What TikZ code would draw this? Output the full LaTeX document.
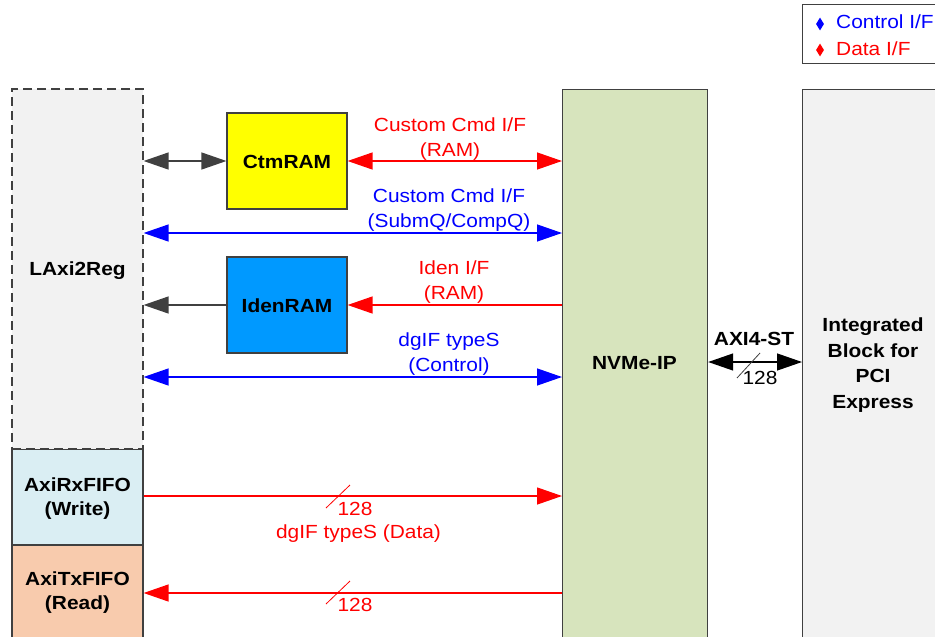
\documentclass[tikz,border=0pt]{standalone}
\usepackage{fontspec}
\setmainfont{Liberation Sans}[FakeStretch=1.1]
\usetikzlibrary{arrows.meta,shapes.geometric,calc}
\definecolor{lgray}{HTML}{F2F2F2}
\definecolor{rxblue}{HTML}{DAEEF3}
\definecolor{txpeach}{HTML}{F8CBAD}
\definecolor{ctmyel}{HTML}{FFFF00}
\definecolor{idenblue}{HTML}{0099FF}
\definecolor{nvgreen}{HTML}{D7E4BD}
\definecolor{bord}{HTML}{404040}
\definecolor{cblue}{HTML}{0000FF}
\definecolor{dred}{HTML}{FF0000}
\tikzset{
  box/.style={draw=bord, line width=1.2pt, rectangle, inner sep=0pt},
  btxt/.style={font=\fontsize{19}{24}\selectfont\bfseries, align=center, inner sep=0pt},
  ltxt/.style={font=\fontsize{19}{25}\selectfont, align=center, inner sep=0pt},
  arr/.style={line width=1.3pt, -{Triangle[length=25pt,width=17pt]}},
  darr/.style={line width=1.3pt, {Triangle[length=25pt,width=17pt]}-{Triangle[length=25pt,width=17pt]}},
  slashline/.style={line width=0.8pt},
}
\begin{document}
\begin{tikzpicture}[x=1pt,y=-1pt]
\clip (0,0) rectangle (935,637);
\fill[white] (0,0) rectangle (935,637);

% left column
\node[box, fill=rxblue, minimum width=131, minimum height=96] (rx) at (77.5,497) {};
\node[btxt] (rxl) at (77.5,498.5) {AxiRxFIFO\\(Write)};
\node[box, fill=txpeach, minimum width=131, minimum height=115, anchor=north] (tx) at (77.5,545) {};
\node[btxt] (txl) at (77.5,592.5) {AxiTxFIFO\\(Read)};
\node[box, fill=lgray, dash pattern=on 9pt off 5pt, minimum width=131, minimum height=360] (lreg) at (77.5,269) {};
\node[btxt] (lregl) at (77.5,271) {LAxi2Reg};

% RAMs
\node[box, fill=ctmyel, minimum width=120, minimum height=96] (ctm) at (287,161) {};
\node[btxt] (ctml) at (287,162) {CtmRAM};
\node[box, fill=idenblue, minimum width=120, minimum height=96] (iden) at (287,305) {};
\node[btxt] (idenl) at (287,306) {IdenRAM};

% NVMe-IP
\node[box, fill=nvgreen, minimum width=145, minimum height=580, anchor=north west] (nvme) at (562,89) {};
\node[btxt] (nvmel) at (634.5,363) {NVMe-IP};

% Integrated block
\node[box, fill=lgray, minimum width=160, minimum height=580, anchor=north west] (pcie) at (802,89) {};
\node[btxt, font=\fontsize{19}{25.5}\selectfont\bfseries] (pciel) at (873,365) {Integrated\\Block for\\PCI\\Express};

% legend
\node[box, fill=white, minimum width=160, minimum height=59, anchor=north west] (leg) at (802,4) {};
\node[diamond, fill=cblue, minimum width=8, minimum height=13, inner sep=0pt] (dblue) at (820,24) {};
\node[diamond, fill=dred, minimum width=8, minimum height=13, inner sep=0pt] (dred) at (820,50) {};
\node[ltxt, text=cblue, anchor=base west] (legc) at (836,28) {Control I/F};
\node[ltxt, text=dred, anchor=base west] (legd) at (836,55) {Data I/F};

% helper coordinates
\coordinate (y1) at (0,233);
\coordinate (y2) at (0,377);
\coordinate (y3) at (0,496);
\coordinate (y4) at (0,593);
\coordinate (y5) at (0,362);

% connectors
\draw[darr, bord] (ctm.west -| lreg.east) -- (ctm.west);
\draw[darr, dred] (ctm.east) -- (ctm.east -| nvme.west);
\node[ltxt, text=dred] (l1) at (450,139) {Custom Cmd I/F\\(RAM)};

\draw[darr, cblue] (lreg.east |- y1) -- (nvme.west |- y1);
\node[ltxt, text=cblue] (l2) at (449,210.5) {Custom Cmd I/F\\(SubmQ/CompQ)};

\draw[arr, dred] (iden.east -| nvme.west) -- (iden.east);
\draw[arr, bord] (iden.west) -- (iden.west -| lreg.east);
\node[ltxt, text=dred] (l3) at (454,282.5) {Iden I/F\\(RAM)};

\draw[darr, cblue] (lreg.east |- y2) -- (nvme.west |- y2);
\node[ltxt, text=cblue] (l4) at (449,354.5) {dgIF typeS\\(Control)};

\draw[arr, dred] (rx.east |- y3) -- (nvme.west |- y3);
\coordinate (s1) at (338,496);
\draw[slashline, dred] ($(s1)+(-12,12)$) -- ($(s1)+(12,-11)$);
\node[ltxt, text=dred] (n1) at (355,509) {128};
\node[ltxt, text=dred] (l5) at (358.5,534) {dgIF typeS (Data)};

\draw[arr, dred] (nvme.west |- y4) -- (tx.east |- y4);
\coordinate (s2) at (338,593);
\draw[slashline, dred] ($(s2)+(-12,11)$) -- ($(s2)+(12,-12)$);
\node[ltxt, text=dred] (n2) at (355,605) {128};

\draw[darr, black] (nvme.east |- y5) -- (pcie.west |- y5);
\coordinate (s3) at (748,366);
\draw[slashline, bord] ($(s3)+(-11,12)$) -- ($(s3)+(12,-13)$);
\node[ltxt] (n3) at (760,378) {128};
\node[btxt] (axl) at (754,339) {AXI4-ST};
\end{tikzpicture}
\end{document}
